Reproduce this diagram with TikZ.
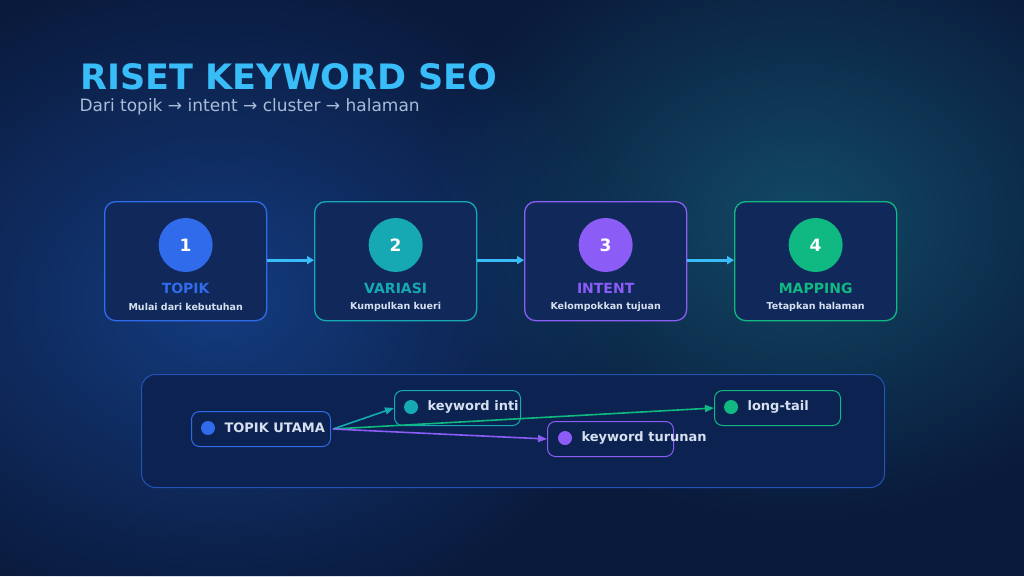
\documentclass[tikz,border=0pt]{standalone}
\usepackage{fontspec}
\setmainfont{DejaVu Sans}
\usetikzlibrary{arrows.meta,fadings}
\tikzfading[name=glowfade, inner color=transparent!0, outer color=transparent!100]
\definecolor{bg}{HTML}{0A1A3C}
\definecolor{glowa}{HTML}{143C80}
\definecolor{glowb}{HTML}{124A66}
\definecolor{cardfill}{HTML}{10295A}
\definecolor{cblue}{HTML}{2F6BEA}
\definecolor{cteal}{HTML}{16A9B4}
\definecolor{cpurp}{HTML}{8B5CF6}
\definecolor{cgreen}{HTML}{10B981}
\definecolor{ttl}{HTML}{38BDF8}
\definecolor{sub}{HTML}{A9BCD8}
\definecolor{light}{HTML}{D6E0F0}
\definecolor{panel}{HTML}{0C2250}
\begin{document}
\begin{tikzpicture}[x=1pt,y=-1pt,
 card/.style={draw=#1,line width=1.3pt,fill=cardfill,rounded corners=11pt,minimum width=162pt,minimum height=119pt,anchor=north west},
 num/.style={circle,fill=#1,minimum size=54pt,text=white,font=\bfseries\fontsize{17}{17}\selectfont},
 ctitle/.style={text=#1,font=\bfseries\fontsize{14}{14}\selectfont},
 csub/.style={text=light,font=\bfseries\fontsize{9.5}{10}\selectfont},
 flow/.style={-{Triangle[length=7pt,width=8pt]},draw=ttl,line width=2.8pt},
 pill/.style={draw=#1,line width=1pt,fill=panel,rounded corners=8pt,minimum width=126pt,minimum height=35pt,anchor=north west},
 dot/.style={circle,fill=#1,minimum size=14pt,inner sep=0pt},
 ptext/.style={text=light,anchor=west,font=\bfseries\fontsize{13}{13}\selectfont},
 link/.style={-{Triangle[length=9pt,width=7pt]},draw=#1,line width=1.6pt}]
\useasboundingbox (0,0) rectangle (1024,576);
\fill[bg] (0,0) rectangle (1024,576);
\fill[glowa,path fading=glowfade] (220,300) ellipse (420 and 330);
\fill[glowb,path fading=glowfade] (800,220) ellipse (380 and 300);
\node[anchor=west,text=ttl,font=\bfseries\fontsize{35}{35}\selectfont] (title) at (77,77) {RISET KEYWORD SEO};
\node[anchor=west,text=sub,font=\fontsize{17}{17}\selectfont] (subtitle) at (76,107) {Dari topik → intent → cluster → halaman};

\node[card=cblue] (c1) at (104,201) {};
\node[card=cteal] (c2) at (314,201) {};
\node[card=cpurp] (c3) at (524,201) {};
\node[card=cgreen] (c4) at (734,201) {};
\foreach \i/\c/\t/\s in {1/cblue/TOPIK/Mulai dari kebutuhan,2/cteal/VARIASI/Kumpulkan kueri,3/cpurp/INTENT/Kelompokkan tujuan,4/cgreen/MAPPING/Tetapkan halaman}{
  \node[num=\c] (n\i) at ([yshift=-44pt]c\i.north) {\i};
  \node[ctitle=\c] (t\i) at ([yshift=-87pt]c\i.north) {\t};
  \node[csub] (s\i) at ([yshift=-106pt]c\i.north) {\s};
}
\draw[flow] ([yshift=1pt]c1.east) -- ([yshift=1pt]c2.west);
\draw[flow] ([yshift=1pt]c2.east) -- ([yshift=1pt]c3.west);
\draw[flow] ([yshift=1pt]c3.east) -- ([yshift=1pt]c4.west);

\node[draw=cblue!70!bg,line width=1pt,fill=panel,rounded corners=14pt,minimum width=743pt,minimum height=113pt,anchor=north west] (panel) at (141,374) {};

\node[pill=cblue,minimum width=139pt] (tu) at (191,411) {};
\node[pill=cteal] (ki) at (394,390) {};
\node[pill=cgreen] (lt) at (714,390) {};
\node[pill=cpurp] (kt) at (547,421) {};
\node[dot=cblue] (d1) at (208,428) {};
\node[dot=cteal] (d2) at (411,407) {};
\node[dot=cgreen] (d3) at (731,407) {};
\node[dot=cpurp] (d4) at (565,438) {};
\node[ptext] (l1) at (221,428) {TOPIK UTAMA};
\node[ptext] (l2) at (424,407) {keyword inti};
\node[ptext] (l3) at (744,407) {long-tail};
\node[ptext] (l4) at (578,438) {keyword turunan};
\coordinate (src) at ([xshift=2pt]tu.east);
\draw[link=cteal] (src) -- (ki.west);
\draw[link=cgreen] (src) -- (lt.west);
\draw[link=cpurp] (src) -- (kt.west);
\end{tikzpicture}
\end{document}
